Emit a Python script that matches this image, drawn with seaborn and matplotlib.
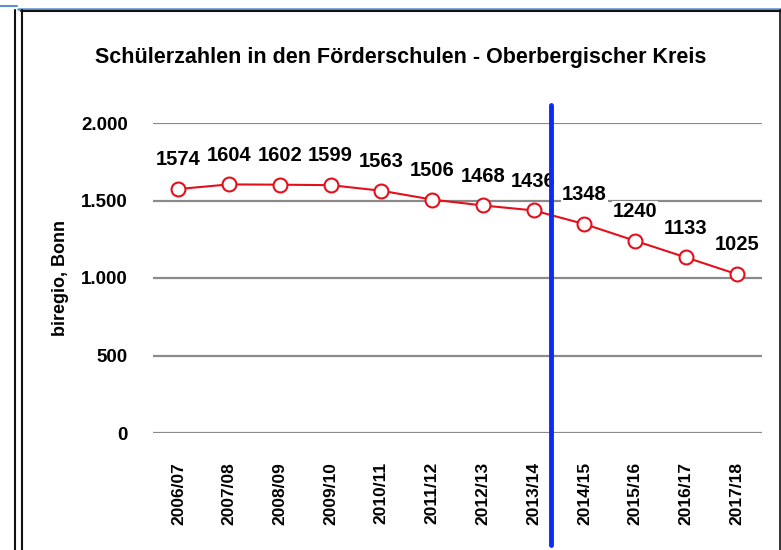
import numpy as np
import pandas as pd
import matplotlib
matplotlib.use("Agg")
import matplotlib.pyplot as plt
from matplotlib.lines import Line2D
import seaborn as sns

# chart data
years = ["2006/07", "2007/08", "2008/09", "2009/10", "2010/11", "2011/12",
         "2012/13", "2013/14", "2014/15", "2015/16", "2016/17", "2017/18"]
pupils = [1574, 1604, 1602, 1599, 1563, 1506, 1468, 1436, 1348, 1240, 1133, 1025]
y_ticks = [0, 500, 1000, 1500, 2000]
y_tick_labels = ["0", "500", "1.000", "1.500", "2.000"]
split_pos = 7.35  # blue marker between 2013/14 and 2014/15

sns.set_theme(style="white")
plt.rcParams['font.family'] = ['Liberation Sans', 'DejaVu Sans']
plt.rcParams['font.weight'] = 'bold'
plt.rcParams['text.color'] = 'black'
plt.rcParams['axes.labelcolor'] = 'black'
plt.rcParams['xtick.color'] = 'black'
plt.rcParams['ytick.color'] = 'black'

df = pd.DataFrame({"idx": np.arange(len(years)), "n": pupils})

fig = plt.figure(figsize=(7.81, 5.50), dpi=100)
W, H = 781, 550
ax = fig.add_axes([153 / W, 1 - 433 / H, (762 - 153) / W, (433 - 123) / H])

for v in y_ticks:
    ax.axhline(v, color="#8a8a8a", lw=1.6, zorder=0)

sns.lineplot(data=df, x="idx", y="n", ax=ax, color="#e3101c", lw=1.5,
             marker="o", markersize=10, markerfacecolor="white",
             markeredgecolor="#e3101c", markeredgewidth=1.5, zorder=3)

for i, v in enumerate(pupils):
    ax.annotate(str(v), (i, v), xytext=(0, 21), textcoords="offset points",
                ha="center", va="center", fontsize=14.5, fontweight="bold",
                bbox=dict(boxstyle="square,pad=0.05", fc="white", ec="none"),
                zorder=4)

ax.axvline(split_pos, ymin=-0.362, ymax=1.058, color="#0a2cf5", lw=3.5,
           clip_on=False, zorder=5)

ax.set_xlim(-0.5, len(years) - 0.5)
ax.set_ylim(0, 2000)
ax.set_yticks(y_ticks)
ax.set_yticklabels(y_tick_labels, fontsize=13.5, fontweight="bold")
ax.set_xticks(range(len(years)))
ax.set_xticklabels(years, rotation=90, fontsize=12.5, fontweight="bold")
ax.tick_params(axis="y", pad=18, length=0)
ax.tick_params(axis="x", pad=21, length=0)
ax.set_xlabel("")
ax.set_ylabel("biregio, Bonn", fontsize=13, fontweight="bold", labelpad=9)
for s in ax.spines.values():
    s.set_visible(False)

fig.text(401 / W, 1 - 58 / H, "Schülerzahlen in den Förderschulen - Oberbergischer Kreis",
         ha="center", va="center", fontsize=15.5, fontweight="bold")

# panel frame lines (screenshot borders)
def fl(x0, y0, x1, y1, c, lw):
    fig.add_artist(Line2D([x0 / W, x1 / W], [1 - y0 / H, 1 - y1 / H],
                          color=c, lw=lw, transform=fig.transFigure))

fl(0, 5.5, 17, 5.5, "#5b8fd0", 1.5)
fl(18, 8.5, 781, 8.5, "#5b8fd0", 1.8)
fl(21, 10.5, 781, 10.5, "#111111", 1.5)
fl(14.5, 10, 14.5, 550, "#111111", 1.5)
fl(21.5, 10, 21.5, 550, "#111111", 1.5)
fl(780, 10, 780, 550, "#111111", 1.2)

fig.savefig("out.png", dpi=100)
